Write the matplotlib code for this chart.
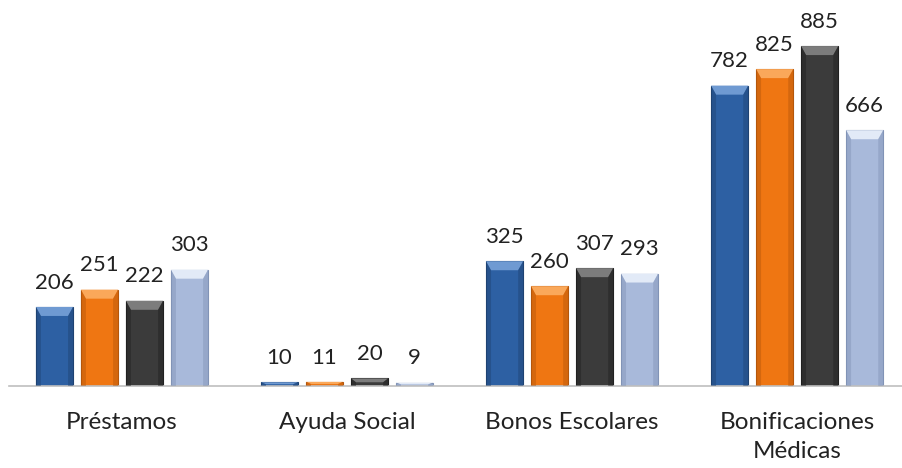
import numpy as np
import matplotlib.pyplot as plt
from matplotlib.patches import Polygon

categories = ['Préstamos', 'Ayuda Social', 'Bonos Escolares', 'Bonificaciones\nMédicas']
serie_1 = [206, 10, 325, 782]
serie_2 = [251, 11, 260, 825]
serie_3 = [222, 20, 307, 885]
serie_4 = [303, 9, 293, 666]

series = [serie_1, serie_2, serie_3, serie_4]
colors = ['#2D60A3', '#EF7612', '#3B3B3B', '#A8B9DA']
light = ['#6F9AD2', '#FAA85A', '#7C7C7C', '#E2EAF7']
dark = ['#1E4272', '#B5560A', '#202020', '#8193B6']

plt.rcParams['font.family'] = ['Lato', 'DejaVu Sans']

fig = plt.figure(figsize=(9.02, 4.68), dpi=100)
ax = fig.add_axes([0.0105, 0.175, 0.998, 0.821])

x = np.arange(len(categories))
width = 0.165
step = 0.2
ymax = 1000

# bevel sizes in data units (approx. 5 px sideways, 9 px on top)
px_x = 1.0 / 225
px_y = ymax / 384.0
for i, vals in enumerate(series):
    pos = x + (i - 1.5) * step
    bars = ax.bar(pos, vals, width, color=colors[i], edgecolor=dark[i], linewidth=0.8, zorder=2)
    for b, v in zip(bars, vals):
        x0, x1 = b.get_x(), b.get_x() + b.get_width()
        bx = 5 * px_x
        by = min(9 * px_y, v * 0.5)
        # top facet
        ax.add_patch(Polygon([[x0, v], [x1, v], [x1 - bx, v - by], [x0 + bx, v - by]],
                             closed=True, facecolor=light[i], edgecolor='none', zorder=3))
        # side facets
        ax.add_patch(Polygon([[x0, v], [x0 + bx, v - by], [x0 + bx, 0], [x0, 0]],
                             closed=True, facecolor=dark[i], edgecolor='none', alpha=0.45, zorder=3))
        ax.add_patch(Polygon([[x1, v], [x1 - bx, v - by], [x1 - bx, 0], [x1, 0]],
                             closed=True, facecolor=dark[i], edgecolor='none', alpha=0.45, zorder=3))
        ax.annotate(str(v), (b.get_x() + b.get_width() / 2, v), xytext=(0, 17.5),
                    textcoords='offset points', ha='center', va='center',
                    fontsize=16, color='#222222')

ax.set_xlim(-0.5, len(categories) - 0.5)
ax.set_ylim(0, ymax)
ax.set_yticks([])
ax.set_xticks(x)
ax.set_xticklabels(categories, fontsize=17.5, color='#222222', linespacing=1.45)
ax.tick_params(axis='x', length=0, pad=19)
for s in ['top', 'right', 'left']:
    ax.spines[s].set_visible(False)
ax.spines['bottom'].set_color('#BFBFBF')
ax.spines['bottom'].set_linewidth(1.2)

fig.savefig('out.png', dpi=100)
